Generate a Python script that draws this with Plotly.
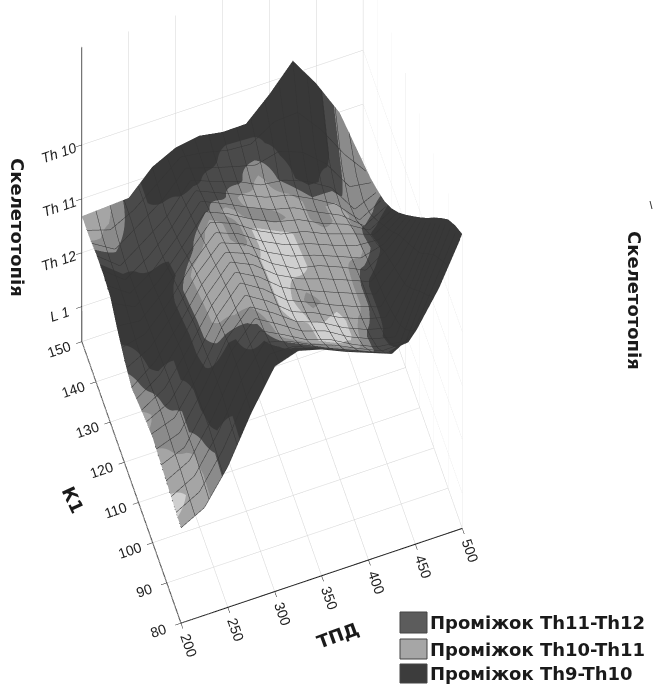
import plotly.graph_objects as go
W, H = 653, 684
tpd = [200, 225, 250, 275, 300, 325, 350, 375, 400, 425, 450, 475, 500]
k1 = [80, 85, 90, 95, 100, 105, 110, 115, 120, 125, 130, 135, 140, 145, 150]
# skeletotopy level read as a fraction of the L1..Th10 box height; rows k1, cols tpd
frac = [
 [.372,.42,.55,.73,.88,.91,.885,.845,.81,.775,.83,.97,1.15],
 [.38,.43,.565,.74,.87,.855,.815,.78,.74,.70,.71,.91,1.105],
 [.39,.44,.58,.755,.855,.81,.76,.73,.68,.64,.63,.85,1.05],
 [.40,.435,.58,.75,.845,.79,.73,.70,.645,.606,.58,.775,.977],
 [.41,.44,.575,.735,.83,.775,.705,.67,.62,.583,.56,.70,.90],
 [.40,.45,.57,.72,.82,.765,.69,.65,.61,.573,.54,.66,.82],
 [.385,.445,.57,.70,.80,.755,.685,.64,.605,.57,.535,.62,.744],
 [.37,.44,.55,.68,.775,.74,.67,.62,.60,.563,.52,.58,.67],
 [.40,.44,.535,.66,.75,.715,.655,.61,.58,.545,.51,.52,.597],
 [.44,.435,.52,.63,.73,.695,.635,.59,.57,.53,.50,.47,.527],
 [.49,.435,.50,.60,.71,.67,.62,.58,.557,.51,.475,.415,.465],
 [.50,.43,.49,.58,.69,.65,.61,.57,.545,.497,.445,.36,.415],
 [.50,.43,.495,.56,.67,.635,.605,.56,.55,.515,.46,.34,.38],
 [.49,.446,.51,.575,.66,.635,.61,.60,.645,.61,.52,.40,.35],
 [.49,.495,.50,.59,.635,.65,.634,.635,.72,.82,.70,.555,.33],
]
band = [
 [3,3,1,0,0,0,0,0,0,0,0,0,0],
 [4,3,1,0,0,1,1,2,2,1,0,0,0],
 [3,3,0,0,1,3,3,4,3,1,0,0,0],
 [3,2,0,0,2,3,3,4,4,1,0,0,0],
 [2,2,0,2,3,3,4,3,4,2,0,0,0],
 [3,1,0,3,3,3,4,2,3,3,0,0,0],
 [2,1,0,3,3,3,4,3,3,3,0,0,0],
 [2,0,0,3,3,3,4,4,3,3,1,0,0],
 [1,0,0,3,3,2,4,4,3,3,3,0,0],
 [0,0,0,1,3,2,4,4,3,3,3,0,0],
 [0,0,0,1,1,3,2,2,3,2,3,1,0],
 [0,0,1,1,1,1,3,3,3,2,3,2,1],
 [1,1,1,1,0,1,1,3,1,0,1,2,2],
 [3,2,1,0,0,0,1,1,0,0,0,2,2],
 [3,3,1,0,0,0,0,0,0,0,0,2,2],
]
z_low, z_span = -0.65, 4.75
z_high = z_low + z_span * 1.15
z = [[z_low + z_span * f for f in r] for r in frac]
z_vals = [0, 1, 2, 3]
z_text = ['<i>L 1</i>', '<i>Th 12</i>', '<i>Th 11</i>', '<i>Th 10</i>']
colors = ['#383838', '#4a4a4a', '#8b8b8b', '#a5a5a5', '#cfcfcf']
n = len(colors)
cs = []
for i, c in enumerate(colors):
    cs += [[i / n, c], [(i + 1) / n, c]]
fig = go.Figure(go.Surface(x=tpd, y=k1, z=z, surfacecolor=band, colorscale=cs, cmin=-0.5, cmax=4.5,
    showscale=False, hoverinfo='skip',
    lighting=dict(ambient=1, diffuse=0, specular=0, roughness=1, fresnel=0),
    contours=dict(
        x=dict(show=True, start=200, end=500, size=15, color='#333333', width=1),
        y=dict(show=True, start=80, end=150, size=3.5, color='#333333', width=1),
        z=dict(show=False))))
ax = dict(showbackground=True, backgroundcolor='white', gridcolor='#d4d4d4', gridwidth=1,
          showline=True, linecolor='#222', linewidth=2, ticks='outside', ticklen=6, tickcolor='#222', title='',
          tickfont=dict(family='Liberation Sans', size=13, color='#222'), zeroline=False, showspikes=False)
sx, sy, sz = 0.100, -0.1985, -0.0325
d = 7.06
fig.update_layout(width=W, height=H, margin=dict(l=0, r=0, t=0, b=0), paper_bgcolor='white', showlegend=False,
    scene=dict(domain=dict(x=[0, 1], y=[0, 1]),
        xaxis=dict(ax, range=[200, 500], tickvals=[200, 250, 300, 350, 400, 450, 500]),
        yaxis=dict(ax, range=[80, 150], tickvals=[80, 90, 100, 110, 120, 130, 140, 150]),
        zaxis=dict(ax, range=[z_low, z_high], tickvals=z_vals, ticktext=z_text),
        aspectmode='manual', aspectratio=dict(x=0.87, y=0.89, z=4.14),
        camera=dict(eye=dict(x=-0.0677*d + sx, y=-0.1966*d + sy, z=0.978*d + sz), center=dict(x=sx, y=sy, z=sz), up=dict(x=0, y=0, z=1),
                    projection=dict(type='orthographic'))))
def P(x, y): return x / W, 1 - y / H
anns = []
def T(x, y, s, size, rot=0, anchor='center', fam='DejaVu Sans'):
    px, py = P(x, y)
    anns.append(dict(x=px, y=py, xref='paper', yref='paper', text=f'<b>{s}</b>', showarrow=False, textangle=rot,
        xanchor=anchor, yanchor='middle', font=dict(family=fam, size=size, color='#1a1a1a')))
T(18, 227, 'Скелетотопія', 18, 90)
T(635, 300, 'Скелетотопія', 18, 90)
T(73, 499, 'К1', 18, 65)
T(337, 635, 'ТПД', 18, -20)
legend = [('Проміжок Th11-Th12', '#5c5c5c', 612, 633), ('Проміжок Th10-Th11', '#a6a6a6', 639, 659), ('Проміжок Th9-Th10', '#3c3c3c', 664, 683)]
shapes = []
for s, c, y0, y1 in legend:
    x0p, y0p = P(400, y0); x1p, y1p = P(427, y1)
    shapes.append(dict(type='rect', xref='paper', yref='paper', x0=x0p, x1=x1p, y0=y0p, y1=y1p, fillcolor=c, line=dict(color='#444', width=1)))
    T(428, (y0 + y1) / 2, s, 18, 0, 'left')
mx0, my0 = P(650, 201); mx1, my1 = P(652, 209)
shapes.append(dict(type='line', xref='paper', yref='paper', x0=mx0, y0=my0, x1=mx1, y1=my1, line=dict(color='#333', width=1)))
fig.update_layout(annotations=anns, shapes=shapes)
fig.write_html('out.html', config={'displayModeBar': False}, post_script="document.body.style.margin='0';")
